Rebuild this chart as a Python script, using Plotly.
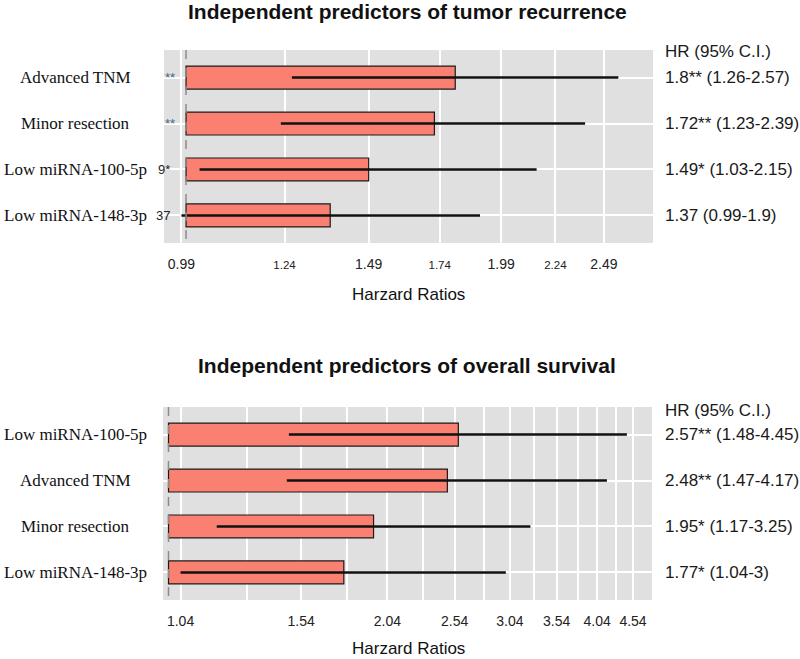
import plotly.graph_objects as go

# ---------------- data ----------------
rec_categories = ["Advanced TNM", "Minor resection", "Low miRNA-100-5p", "Low miRNA-148-3p"]
rec_hr = [1.8, 1.72, 1.49, 1.37]
rec_lo = [1.26, 1.23, 1.03, 0.99]
rec_hi = [2.57, 2.39, 2.15, 1.9]
rec_labels = ["1.8** (1.26-2.57)", "1.72** (1.23-2.39)", "1.49* (1.03-2.15)", "1.37 (0.99-1.9)"]
rec_clipped = ["**", "**", "9*", "37"]
rec_ticks = [0.99, 1.24, 1.49, 1.74, 1.99, 2.24, 2.49]
rec_small_ticks = [1.24, 1.74, 2.24]

os_categories = ["Low miRNA-100-5p", "Advanced TNM", "Minor resection", "Low miRNA-148-3p"]
os_hr = [2.57, 2.48, 1.95, 1.77]
os_lo = [1.48, 1.47, 1.17, 1.04]
os_hi = [4.45, 4.17, 3.25, 3.0]
os_labels = ["2.57** (1.48-4.45)", "2.48** (1.47-4.17)", "1.95* (1.17-3.25)", "1.77* (1.04-3)"]
os_major_ticks = [1.04, 1.54, 2.04, 2.54, 3.04, 3.54, 4.04, 4.54]
os_minor_ticks = [1.29, 1.79, 2.29, 2.79, 3.29, 3.79, 4.29]

ref_value = 1.0
header = "HR (95% C.I.)"
titles = ["Independent predictors of tumor recurrence", "Independent predictors of overall survival"]
x_title = "Harzard Ratios"

# ---------------- styling ----------------
W, H = 800, 659
BG = "#E0E0E0"
BAR = "#FA8072"
SANS = "Arial, Liberation Sans, sans-serif"
SERIF = "Times New Roman, Liberation Serif, serif"

def py(px):  # pixel from top -> paper y
    return 1 - px / H

def px_(x):
    return x / W

fig = go.Figure()

panels = [
    dict(cats=rec_categories, hr=rec_hr, lo=rec_lo, hi=rec_hi, labels=rec_labels,
         xa="x", ya="y", top=50, bottom=243, left=164, right=653),
    dict(cats=os_categories, hr=os_hr, lo=os_lo, hi=os_hi, labels=os_labels,
         xa="x2", ya="y2", top=407, bottom=600, left=163, right=652),
]

annotations = []
for p in panels:
    n = len(p["cats"])
    ypos = list(range(n))
    # bars from the reference value (1.0) up to the HR
    fig.add_trace(go.Bar(
        orientation="h", y=ypos, x=[h - ref_value for h in p["hr"]], base=ref_value,
        width=0.5, marker=dict(color=BAR, line=dict(color="#1a1a1a", width=1.2)),
        xaxis=p["xa"], yaxis=p["ya"], showlegend=False, hoverinfo="skip"))
    # CI lines
    xs, ys = [], []
    for i in range(n):
        xs += [p["lo"][i], p["hi"][i], None]
        ys += [i, i, None]
    fig.add_trace(go.Scatter(x=xs, y=ys, mode="lines", line=dict(color="#111111", width=2.4),
                             xaxis=p["xa"], yaxis=p["ya"], showlegend=False, hoverinfo="skip"))
    # dashed reference line
    fig.add_trace(go.Scatter(x=[ref_value, ref_value], y=[-0.6, n - 0.4], mode="lines",
                             line=dict(color="#8C8C8C", width=1.5, dash="dash"),
                             xaxis=p["xa"], yaxis=p["ya"], showlegend=False, hoverinfo="skip"))
    yref = p["ya"]
    for i, c in enumerate(p["cats"]):
        annotations.append(dict(x=75 / W, xref="paper", y=i, yref=yref, text=c, showarrow=False,
                                xanchor="center", yanchor="middle",
                                font=dict(family=SERIF, size=17, color="#111111")))
        annotations.append(dict(x=663 / W, xref="paper", y=i, yref=yref, text=p["labels"][i],
                                showarrow=False, xanchor="left", yanchor="middle",
                                font=dict(family=SANS, size=17, color="#1a1a1a")))

# clipped residual text in top panel margin
clip_x = [170, 170, 164, 163]
clip_col = ["#4A6680", "#4A6680", "#222222", "#222222"]
for i, t in enumerate(rec_clipped):
    annotations.append(dict(x=clip_x[i] / W, xref="paper", y=i, yref="y", text=t, showarrow=False,
                            xanchor="center", yanchor="middle",
                            font=dict(family=SANS, size=13, color=clip_col[i])))

for yy in [51, 410]:
    annotations.append(dict(x=663 / W, xref="paper", y=py(yy), yref="paper", text=header,
                            showarrow=False, xanchor="left", yanchor="middle",
                            font=dict(family=SANS, size=17, color="#1a1a1a")))
for yy, t in zip([12, 365], titles):
    annotations.append(dict(x=407 / W, xref="paper", y=py(yy), yref="paper", text="<b>" + t + "</b>",
                            showarrow=False, xanchor="center", yanchor="middle",
                            font=dict(family=SANS, size=21, color="#111111")))
for yy in [295, 648]:
    annotations.append(dict(x=408 / W, xref="paper", y=py(yy), yref="paper", text=x_title,
                            showarrow=False, xanchor="center", yanchor="middle",
                            font=dict(family=SANS, size=17, color="#111111")))

rec_ticktext = [("<span style='font-size:11.5px'>%g</span>" % v) if v in rec_small_ticks else ("%g" % v)
                for v in rec_ticks]
os_tickvals = sorted(os_major_ticks + os_minor_ticks)
os_ticktext = [("%.2f" % v) if v in os_major_ticks else "" for v in os_tickvals]

common_x = dict(type="log", showline=False, zeroline=False, gridcolor="white", gridwidth=1.6,
                ticks="outside", ticklen=8, tickcolor="rgba(0,0,0,0)",
                tickfont=dict(family=SANS, size=14, color="#222222"), fixedrange=True)
common_y = dict(showline=False, zeroline=False, gridcolor="white", gridwidth=1.6,
                showticklabels=False, tickvals=[0, 1, 2, 3], fixedrange=True)

p0, p1 = panels
fig.update_layout(
    width=W, height=H, margin=dict(l=0, r=0, t=0, b=0),
    paper_bgcolor="white", plot_bgcolor=BG, bargap=0.5, showlegend=False,
    xaxis=dict(domain=[px_(p0["left"]), px_(p0["right"])], anchor="y",
               range=[-0.0209, 0.4428], tickmode="array", tickvals=rec_ticks, ticktext=rec_ticktext,
               **common_x),
    yaxis=dict(domain=[py(p0["bottom"]), py(p0["top"])], anchor="x", range=[3.6, -0.6], **common_y),
    xaxis2=dict(domain=[px_(p1["left"]), px_(p1["right"])], anchor="y2",
                range=[-0.0078, 0.6839], tickmode="array", tickvals=os_tickvals, ticktext=os_ticktext,
                **common_x),
    yaxis2=dict(domain=[py(p1["bottom"]), py(p1["top"])], anchor="x2", range=[3.6, -0.6], **common_y),
    annotations=annotations,
)

fig.write_html("out.html", config={"displayModeBar": False},
               post_script="document.body.style.margin='0';document.body.style.overflow='hidden';")
